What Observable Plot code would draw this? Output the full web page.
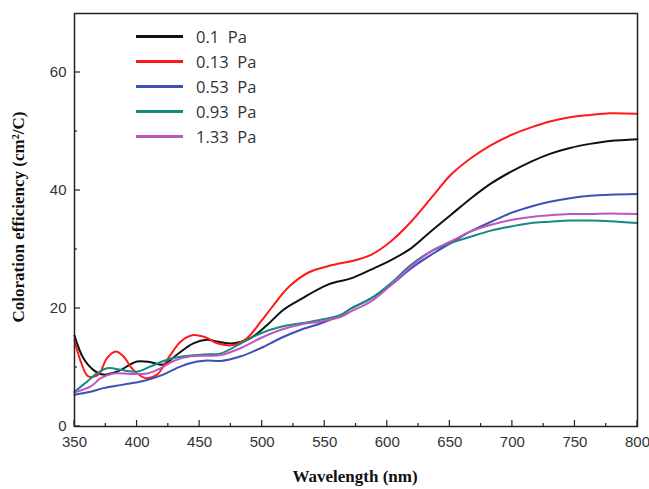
<!DOCTYPE html>
<html><head><meta charset="utf-8">
<script src="https://cdn.jsdelivr.net/npm/d3@7"></script>
<script src="https://cdn.jsdelivr.net/npm/@observablehq/plot@0.6"></script>
<style>
body{margin:0;background:#fff}
#wrap{position:relative;width:649px;height:489px;overflow:hidden}
.ttl{position:absolute;font-family:"Liberation Serif","Times New Roman",serif;font-weight:bold;font-size:17px;color:#111;white-space:nowrap}
#legend{position:absolute;left:136px;top:24px;font-family:"Open Sans",sans-serif;font-size:16.5px;color:#333}
.row{display:flex;align-items:center;height:25px}
.sw{width:47px;height:2.2px;margin-right:13px}
.lab{white-space:pre}
</style></head><body><div id="wrap"></div>
<script>
const seriesNames = ["0.1 Pa", "0.13 Pa", "0.53 Pa", "0.93 Pa", "1.33 Pa"];
const seriesColors = ["#111111", "#ff1a1a", "#3d4fb8", "#168a80", "#c155c0"];

const wl_01 = [350,357,365,373,384,400,411,421,432,445,456,464,477,491,504,517,531,553,571,587,603,619,635,651,667,683,699,715,730,746,762,778,800];
const ce_01 = [15.4,11.6,9.6,8.8,9.3,11.0,10.9,10.5,12.2,14.1,14.7,14.4,14.1,15.0,17.2,19.8,21.6,24.1,25.1,26.6,28.2,30.2,33.1,35.9,38.7,41.2,43.2,44.9,46.2,47.2,47.9,48.4,48.7];

const wl_013 = [350,355,361,369,376,383,389,397,407,416,425,435,445,456,464,477,488,499,507,521,537,553,566,571,587,603,619,635,651,667,683,699,715,730,746,762,778,800];
const ce_013 = [14.6,11.0,8.5,8.8,11.6,12.7,11.9,9.6,8.2,8.8,11.6,14.4,15.5,15.0,14.1,13.8,15.0,17.8,20.0,23.6,26.1,27.2,27.8,28.0,29.1,31.4,34.7,38.7,42.7,45.5,47.7,49.4,50.7,51.7,52.4,52.8,53.1,53.0];

const wl_053 = [350,363,373,389,405,421,435,448,456,467,483,499,515,531,547,563,571,587,603,619,635,651,667,683,699,715,730,746,762,778,800];
const ce_053 = [5.4,5.9,6.5,7.1,7.7,8.8,10.2,11.0,11.2,11.1,11.9,13.3,15.0,16.4,17.5,18.9,20.0,21.7,24.0,26.8,29.1,31.1,33.1,34.7,36.2,37.3,38.1,38.7,39.1,39.3,39.4];

const wl_093 = [350,360,368,377,387,400,411,424,437,453,467,483,499,515,531,547,563,571,587,603,619,635,651,667,683,699,715,730,746,762,778,800];
const ce_093 = [5.9,7.6,9.0,9.9,9.6,9.3,10.2,11.3,11.9,12.2,12.4,14.1,15.8,16.9,17.5,18.1,18.9,20.0,21.7,24.3,27.4,29.7,31.1,32.2,33.2,33.9,34.5,34.7,34.9,34.9,34.8,34.5];

const wl_133 = [350,363,371,381,395,408,419,429,443,456,467,483,499,515,531,547,563,571,587,603,619,635,651,667,683,699,715,730,746,762,778,800];
const ce_133 = [5.8,6.8,8.2,9.0,8.9,9.0,9.9,11.1,11.9,12.0,12.1,13.3,15.0,16.4,17.3,17.8,18.6,19.5,21.2,24.0,27.1,29.7,31.4,33.1,34.2,35.0,35.5,35.8,36.0,36.0,36.1,36.0];

const xMajor = [350,400,450,500,550,600,650,700,750,800];
const xMinor = [375,425,475,525,575,625,675,725,775];
const yMajor = [0,20,40,60];
const yMinor = [10,30,50];
const xTitle = "Wavelength (nm)";
const yTitle = "Coloration efficiency (cm\u00B2/C)";

const wls = [wl_01, wl_013, wl_053, wl_093, wl_133];
const ces = [ce_01, ce_013, ce_053, ce_093, ce_133];
const rows = [];
seriesNames.forEach((s, i) => wls[i].forEach((w, j) => rows.push({series: s, wl: w, ce: ces[i][j]})));

const W = 649, H = 489, mL = 74, mR = 12, mT = 13, mB = 63;

const plot = Plot.plot({
  width: W, height: H,
  marginLeft: mL, marginRight: mR, marginTop: mT, marginBottom: mB,
  style: {fontFamily: "'Liberation Sans', Arial, sans-serif", fontSize: "15px", color: "#333", background: "#fff"},
  x: {domain: [350, 800]},
  y: {domain: [0, 70]},
  color: {domain: seriesNames, range: seriesColors},
  marks: [
    Plot.axisX(xMajor, {tickSize: 0, tickPadding: 10, label: null, tickFormat: d => d}),
    Plot.axisY(yMajor, {tickSize: 0, tickPadding: 8, label: null, tickFormat: d => d}),
    Plot.line(rows, {x: "wl", y: "ce", z: "series", stroke: "series", strokeWidth: 2, curve: "catmull-rom"}),
    Plot.frame({stroke: "#222", strokeWidth: 1.5})
  ]
});

// inward tick marks placed through the plot's own scales
const sx = plot.scale("x"), sy = plot.scale("y");
const svg = d3.select(plot.tagName.toLowerCase() === "svg" ? plot : plot.querySelector("svg"));
const g = svg.append("g").attr("stroke", "#222").attr("stroke-width", 1.2);
const yb = sy.apply(0), xl = sx.apply(350);
xMajor.forEach(v => g.append("line").attr("x1", sx.apply(v)).attr("x2", sx.apply(v)).attr("y1", yb).attr("y2", yb - 6));
xMinor.forEach(v => g.append("line").attr("x1", sx.apply(v)).attr("x2", sx.apply(v)).attr("y1", yb).attr("y2", yb - 3));
yMajor.forEach(v => g.append("line").attr("y1", sy.apply(v)).attr("y2", sy.apply(v)).attr("x1", xl).attr("x2", xl + 6));
yMinor.forEach(v => g.append("line").attr("y1", sy.apply(v)).attr("y2", sy.apply(v)).attr("x1", xl).attr("x2", xl + 3));

const wrap = document.getElementById("wrap");
wrap.appendChild(plot);

const xt = document.createElement("div");
xt.className = "ttl"; xt.textContent = xTitle;
xt.style.left = "355px"; xt.style.top = "477px"; xt.style.transform = "translate(-50%,-50%)";
wrap.appendChild(xt);

const yt = document.createElement("div");
yt.className = "ttl"; yt.textContent = yTitle;
yt.style.left = "19px"; yt.style.top = "217px"; yt.style.transform = "translate(-50%,-50%) rotate(-90deg)";
wrap.appendChild(yt);

const lg = document.createElement("div");
lg.id = "legend";
seriesNames.forEach((s, i) => {
  const r = document.createElement("div"); r.className = "row";
  const sw = document.createElement("div"); sw.className = "sw"; sw.style.background = seriesColors[i];
  const lb = document.createElement("span"); lb.className = "lab"; lb.textContent = s.replace(" ", "  ");
  r.appendChild(sw); r.appendChild(lb); lg.appendChild(r);
});
wrap.appendChild(lg);
</script></body></html>
